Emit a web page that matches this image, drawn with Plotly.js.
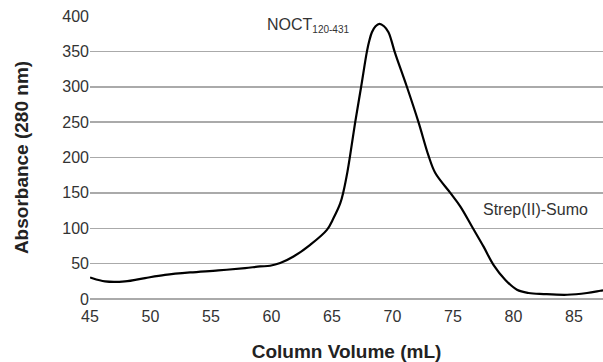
<!DOCTYPE html>
<html>
<head>
<meta charset="utf-8">
<script src="https://cdn.plot.ly/plotly-3.0.1.min.js"></script>
<style>html,body{margin:0;padding:0;background:#fff;}#chart{width:603px;height:362px;}</style>
</head>
<body>
<div id="chart"></div>
<script>
const volume = [45.0, 45.14, 46.24, 47.89, 49.55, 51.2, 53.27, 55.61, 57.82, 59.06, 59.89, 60.72, 61.82, 63.2, 64.58, 65.12, 65.68, 65.95, 66.28, 66.5, 66.92, 67.41, 67.89, 68.1, 68.3, 68.6, 68.93, 69.3, 69.67, 69.9, 70.17, 71.19, 72.15, 72.97, 73.54, 74.78, 75.6, 76.65, 77.53, 78.36, 79.33, 80.29, 81.25, 82.49, 84.43, 86.08, 87.18, 87.4];
const absorbance = [30.5, 29.6, 24.8, 24.8, 29.6, 34, 37.5, 40.4, 43.7, 46, 47, 50.8, 60, 76.6, 97.7, 114, 135, 152, 180, 203, 250, 300, 350, 366, 377, 385.5, 389, 385.5, 377, 366, 350, 300, 250, 203, 178, 150, 131, 100, 74, 48, 27, 13, 8.5, 7, 6, 8.5, 11.7, 12.3];
const yTicks = [0, 50, 100, 150, 200, 250, 300, 350, 400];
const xTicks = [45, 50, 55, 60, 65, 70, 75, 80, 85];
const peakLabels = ["NOCT<sub><span style='font-size:10px'>120-431</span></sub>", "Strep(II)-Sumo"];
const peakLabelX = [59.5, 77.34];
const peakLabelY = [386, 126];

const trace = {
  x: volume, y: absorbance, type: 'scatter', mode: 'lines',
  line: {color: '#000', width: 2.2, shape: 'spline', smoothing: 1},
  hoverinfo: 'skip'
};
const fam = 'Liberation Sans, Arial, sans-serif';
const layout = {
  width: 603, height: 362,
  margin: {l: 90, r: 0, t: 16, b: 63},
  paper_bgcolor: '#fff', plot_bgcolor: '#fff',
  showlegend: false,
  font: {family: fam, size: 16, color: '#333'},
  xaxis: {
    range: [45, 87.4], tickvals: xTicks, ticktext: xTicks.map(String),
    showgrid: false, zeroline: false, showline: false, ticks: '',
    ticklabelstandoff: 6,
    tickfont: {size: 16, color: '#333'},
    title: {text: '<b>Column Volume (mL)</b>', font: {size: 19, color: '#222'}, standoff: 21}
  },
  yaxis: {
    range: [0, 400], tickvals: yTicks, ticktext: yTicks.map(String),
    showgrid: true, gridcolor: '#aaa', gridwidth: 1.5,
    zeroline: true, zerolinecolor: '#aaa', zerolinewidth: 1.5, showline: false, ticks: '',
    tickfont: {size: 16, color: '#333'},
    title: {text: '<b>Absorbance (280 nm)</b>', font: {size: 19, color: '#222'}, standoff: 28}
  },
  annotations: peakLabels.map((t, i) => ({
    text: t, x: peakLabelX[i], y: peakLabelY[i], xref: 'x', yref: 'y',
    xanchor: 'left', yanchor: 'middle', showarrow: false,
    font: {size: 16, color: '#333', family: fam}
  }))
};
Plotly.newPlot('chart', [trace], layout, {displayModeBar: false, staticPlot: true});
</script>
</body>
</html>
